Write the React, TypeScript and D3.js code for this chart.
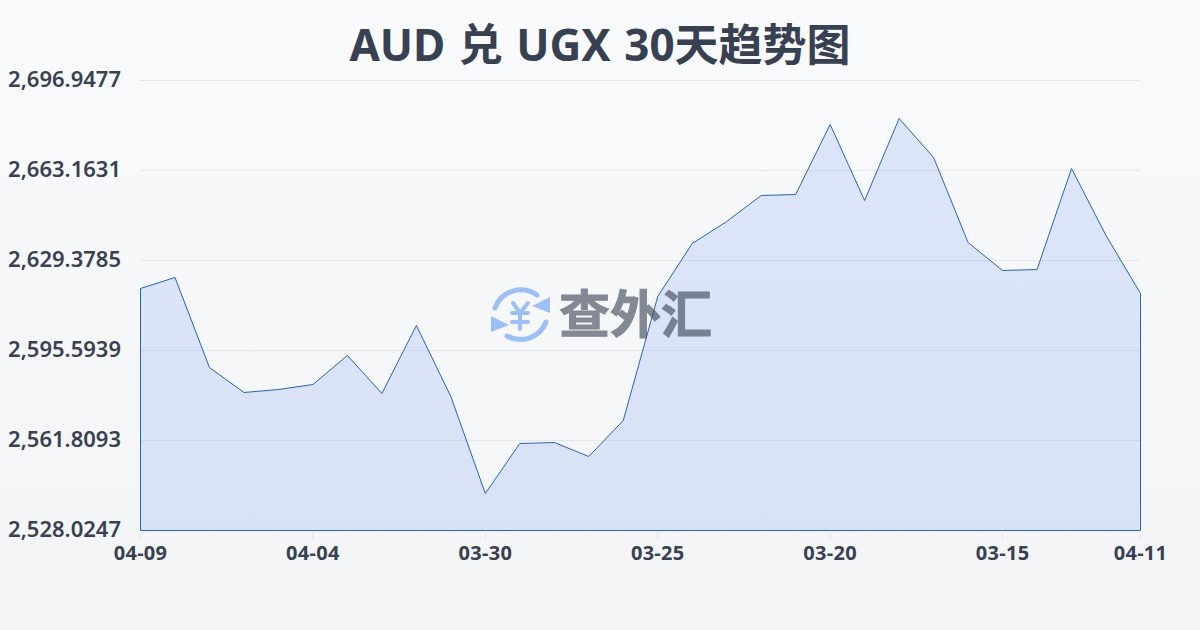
import { useEffect, useRef } from 'react';
import * as d3 from 'd3';

const dates = [
  '04-09', '04-08', '04-07', '04-06', '04-05', '04-04', '04-03', '04-02', '04-01', '03-31',
  '03-30', '03-29', '03-28', '03-27', '03-26', '03-25', '03-24', '03-23', '03-22', '03-21',
  '03-20', '03-19', '03-18', '03-17', '03-16', '03-15', '03-14', '03-13', '03-12', '04-11',
];
const rates = [
  2618.87, 2623.0, 2589.21, 2579.83, 2580.95, 2582.83, 2593.72, 2579.45, 2604.98, 2578.33,
  2541.91, 2560.68, 2561.06, 2555.8, 2569.32, 2615.86, 2635.76, 2644.02, 2653.78, 2654.15,
  2680.43, 2651.9, 2682.68, 2668.04, 2636.13, 2625.62, 2626.0, 2663.91, 2638.76, 2616.99,
];
const yTicks = [2528.0247, 2561.8093, 2595.5939, 2629.3785, 2663.1631, 2696.9477];
const xTickIndexes = [0, 5, 10, 15, 20, 25, 29];
const title = 'AUD 兑 UGX 30天趋势图';

const W = 1200;
const H = 630;
const margin = { top: 80, right: 60, bottom: 100, left: 140 };
const labelFont = '"Noto Sans", "Noto Sans CJK SC", sans-serif';

export default function App() {
  const svgRef = useRef<SVGSVGElement>(null);

  useEffect(() => {
    if (!svgRef.current) return;
    const svg = d3.select(svgRef.current);
    svg.selectAll('*').remove();

    const defs = svg.append('defs');
    const bg = defs
      .append('linearGradient')
      .attr('id', 'bg')
      .attr('x1', 0)
      .attr('y1', 0)
      .attr('x2', 0)
      .attr('y2', 1);
    bg.append('stop').attr('offset', '0%').attr('stop-color', '#f8fafc');
    bg.append('stop').attr('offset', '100%').attr('stop-color', '#f3f4f6');

    svg.append('rect').attr('width', W).attr('height', H).attr('fill', 'url(#bg)');

    const x = d3
      .scaleLinear()
      .domain([0, dates.length - 1])
      .range([margin.left + 0.5, W - margin.right + 0.5]);
    const y = d3
      .scaleLinear()
      .domain([yTicks[0], yTicks[yTicks.length - 1]])
      .range([H - margin.bottom + 0.5, margin.top + 0.5]);

    // 网格线
    svg
      .append('g')
      .selectAll('line')
      .data(yTicks)
      .join('line')
      .attr('x1', margin.left)
      .attr('x2', W - margin.right)
      .attr('y1', (d) => Math.floor(y(d)) + 0.5)
      .attr('y2', (d) => Math.floor(y(d)) + 0.5)
      .attr('stroke', '#e5e7eb')
      .attr('stroke-width', 1);

    // y 轴标签
    svg
      .append('g')
      .selectAll('text')
      .data(yTicks)
      .join('text')
      .attr('x', 121)
      .attr('y', (d) => y(d) + 6.5)
      .attr('text-anchor', 'end')
      .attr('font-family', labelFont)
      .attr('font-size', 22)
      .attr('font-weight', 600)
      .attr('fill', '#374151')
      .text((d) => d3.format(',.4f')(d));

    // x 轴刻度和标签
    const xAxis = svg.append('g');
    xAxis
      .selectAll('line')
      .data(xTickIndexes)
      .join('line')
      .attr('x1', (d) => Math.floor(x(d)) + 0.5)
      .attr('x2', (d) => Math.floor(x(d)) + 0.5)
      .attr('y1', H - margin.bottom)
      .attr('y2', H - margin.bottom + 10)
      .attr('stroke', '#e5e7eb');
    xAxis
      .selectAll('text')
      .data(xTickIndexes)
      .join('text')
      .attr('x', (d) => x(d))
      .attr('y', 560)
      .attr('text-anchor', 'middle')
      .attr('font-family', labelFont)
      .attr('font-size', 20)
      .attr('font-weight', 700)
      .attr('letter-spacing', 0.3)
      .attr('fill', '#374151')
      .text((d) => dates[d]);

    // 面积和折线
    const area = d3
      .area<number>()
      .x((_, i) => x(i))
      .y0(H - margin.bottom + 0.5)
      .y1((d) => y(d));
    svg
      .append('path')
      .datum(rates)
      .attr('d', area)
      .attr('fill', 'rgba(37, 99, 235, 0.13)')
      .attr('stroke', '#2563c8')
      .attr('stroke-width', 1);

    // 水印
    const logo = svg.append('g');
    const blue = '#9cbffa';
    const ring = logo
      .append('g')
      .attr('fill', 'none')
      .attr('stroke', blue)
      .attr('stroke-width', 5)
      .attr('stroke-linecap', 'round');
    ring.append('path').attr('d', 'M495 308 A27.5 27.5 0 0 1 537 295');
    ring.append('path').attr('d', 'M546 322 A27.5 27.5 0 0 1 507 336');
    logo.append('path').attr('d', 'M550 297 L550 313 L532 306 Z').attr('fill', blue);
    logo.append('path').attr('d', 'M491 316 L491 332 L509 325 Z').attr('fill', blue);
    const yen = logo
      .append('g')
      .attr('fill', 'none')
      .attr('stroke', blue)
      .attr('stroke-width', 4)
      .attr('stroke-linecap', 'round');
    yen.append('path').attr('d', 'M513 303 L520 313 L528 303');
    yen.append('path').attr('d', 'M512 313 H528 M512 322 H528 M520 313 V329');
    logo
      .append('text')
      .attr('x', 559)
      .attr('y', 333)
      .attr('font-family', '"Noto Sans CJK SC", sans-serif')
      .attr('font-size', 51)
      .attr('font-weight', 700)
      .attr('fill', '#374151')
      .attr('stroke', '#374151')
      .attr('stroke-width', 1)
      .attr('opacity', 0.6)
      .text('查外汇');

    // 标题
    svg
      .append('text')
      .attr('x', W / 2)
      .attr('y', 61)
      .attr('text-anchor', 'middle')
      .attr('font-family', labelFont)
      .attr('font-size', 44)
      .attr('font-weight', 700)
      .attr('word-spacing', 2)
      .attr('fill', '#374151')
      .text(title);
  }, []);

  return <svg ref={svgRef} width={W} height={H} style={{ position: 'fixed', left: 0, top: 0 }} />;
}
